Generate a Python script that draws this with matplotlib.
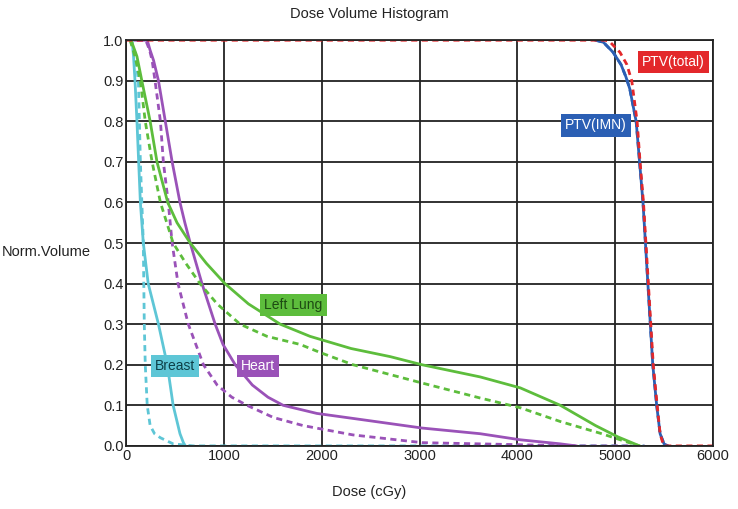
import matplotlib
matplotlib.use("Agg")
import matplotlib.pyplot as plt

plt.rcParams["font.family"] = ["Liberation Sans", "DejaVu Sans"]

# dose (cGy) / normalised volume
ptv_total_dose = [0, 4900, 4950, 5050, 5120, 5170, 5225, 5255, 5290, 5315, 5340, 5365, 5390, 5430, 5460, 5490, 5510, 6000]
ptv_total_vol = [1.0, 1.0, 0.995, 0.97, 0.94, 0.9, 0.8, 0.7, 0.6, 0.5, 0.4, 0.3, 0.2, 0.1, 0.03, 0.005, 0.0, 0.0]

ptv_imn_dose = [4800, 4880, 4980, 5060, 5110, 5150, 5215, 5250, 5285, 5310, 5335, 5360, 5385, 5425, 5460, 5500, 5540]
ptv_imn_vol = [1.0, 0.995, 0.97, 0.94, 0.91, 0.88, 0.8, 0.7, 0.6, 0.5, 0.4, 0.3, 0.2, 0.1, 0.03, 0.005, 0.0]

breast_dose = [60, 75, 90, 110, 145, 160, 175, 225, 330, 420, 480, 550, 585, 605]
breast_vol = [1.0, 0.96, 0.9, 0.8, 0.6, 0.55, 0.5, 0.4, 0.3, 0.2, 0.1, 0.03, 0.008, 0.0]

breast2_dose = [40, 90, 125, 145, 160, 175, 180, 185, 195, 215, 245, 290, 350, 480, 685, 5300]
breast2_vol = [1.0, 0.97, 0.9, 0.7, 0.6, 0.5, 0.4, 0.3, 0.2, 0.1, 0.05, 0.03, 0.02, 0.005, 0.0, 0.0]

lung_dose = [50, 110, 160, 245, 315, 425, 520, 655, 820, 1010, 1250, 1575, 1880, 2300, 2700, 3025,
             3620, 4030, 4440, 4800, 5030, 5180, 5250]
lung_vol = [1.0, 0.96, 0.9, 0.8, 0.7, 0.6, 0.55, 0.5, 0.45, 0.4, 0.35, 0.3, 0.27, 0.24, 0.22, 0.2,
            0.17, 0.143, 0.1, 0.05, 0.022, 0.007, 0.0]

lung2_dose = [40, 90, 145, 195, 265, 350, 480, 610, 755, 930, 1165, 1440, 1780, 1985, 2320, 3025,
              3620, 4030, 4440, 4850, 5180, 5250]
lung2_vol = [1.0, 0.96, 0.9, 0.8, 0.7, 0.6, 0.5, 0.45, 0.4, 0.35, 0.3, 0.27, 0.25, 0.23, 0.2, 0.155,
             0.118, 0.094, 0.06, 0.031, 0.005, 0.0]

heart_dose = [90, 215, 245, 280, 330, 400, 470, 550, 600, 655, 775, 910, 990, 1115, 1290, 1450, 1605, 1950,
              2400, 3025, 3620, 4030, 4440, 4600]
heart_vol = [1.0, 1.0, 0.975, 0.95, 0.9, 0.8, 0.7, 0.6, 0.55, 0.5, 0.4, 0.3, 0.25, 0.2, 0.15, 0.12, 0.1, 0.08,
             0.065, 0.044, 0.03, 0.015, 0.005, 0.0]

heart2_dose = [110, 200, 240, 265, 295, 350, 380, 430, 470, 530, 635, 790, 930, 1080, 1235, 1505, 1810,
               2320, 3025, 4000, 4500, 5300]
heart2_vol = [1.0, 1.0, 0.975, 0.95, 0.9, 0.8, 0.7, 0.6, 0.5, 0.4, 0.3, 0.2, 0.15, 0.12, 0.1, 0.07, 0.05,
              0.027, 0.008, 0.003, 0.0, 0.0]

labels = ["PTV(total)", "PTV(IMN)", "Left Lung", "Breast", "Heart"]
label_x = [5593, 4805, 1708, 500, 1350]
label_y = [0.946, 0.79, 0.347, 0.197, 0.197]

RED = "#e3282b"
BLUE = "#2b5fb4"
GREEN = "#5dbd3c"
PURPLE = "#9a52b8"
CYAN = "#5ec6d6"

fig = plt.figure(figsize=(7.38, 5.09), dpi=100)
ax = fig.add_axes([0.171, 0.124, 0.795, 0.797])

lw = 2.0
dash = (0, (2.2, 1.6))
ax.plot(breast2_dose, breast2_vol, color=CYAN, lw=lw, ls=dash)
ax.plot(breast_dose, breast_vol, color=CYAN, lw=lw)
ax.plot(heart2_dose, heart2_vol, color=PURPLE, lw=lw, ls=dash)
ax.plot(heart_dose, heart_vol, color=PURPLE, lw=lw)
ax.plot(lung2_dose, lung2_vol, color=GREEN, lw=lw, ls=dash)
ax.plot(lung_dose, lung_vol, color=GREEN, lw=lw)
ax.plot(ptv_imn_dose, ptv_imn_vol, color=BLUE, lw=lw)
ax.plot(ptv_imn_dose, ptv_imn_vol, color=BLUE, lw=lw, ls=dash)
ax.plot(ptv_total_dose, ptv_total_vol, color=RED, lw=lw, ls=dash)

box_colors = [RED, BLUE, GREEN, CYAN, PURPLE]
text_colors = ["white", "white", "#1d4a12", "#0d3f47", "white"]
for name, x, y, bc, tc in zip(labels, label_x, label_y, box_colors, text_colors):
    ax.text(x, y, name, ha="center", va="center", fontsize=10, color=tc,
            bbox=dict(boxstyle="square,pad=0.3", fc=bc, ec="none"), zorder=5)

ax.set_xlim(0, 6000)
ax.set_ylim(0, 1.0)
ax.set_xticks(range(0, 6001, 1000))
ax.set_yticks([i / 10 for i in range(11)])
ax.set_yticklabels([f"{i / 10:.1f}" for i in range(11)])
ax.grid(True, color="#222222", lw=1.3)
ax.set_axisbelow(True)
for s in ax.spines.values():
    s.set_color("#222222")
    s.set_linewidth(1.3)
ax.tick_params(length=0, labelsize=10.5, pad=2, colors="#222222")

fig.text(0.5, 0.972, "Dose Volume Histogram", ha="center", va="center", fontsize=10.5, color="#222222")
fig.text(0.003, 0.505, "Norm.Volume", ha="left", va="center", fontsize=10.5, color="#222222")
fig.text(0.5, 0.033, "Dose (cGy)", ha="center", va="center", fontsize=10.5, color="#222222")

fig.savefig("out.png", dpi=100)
